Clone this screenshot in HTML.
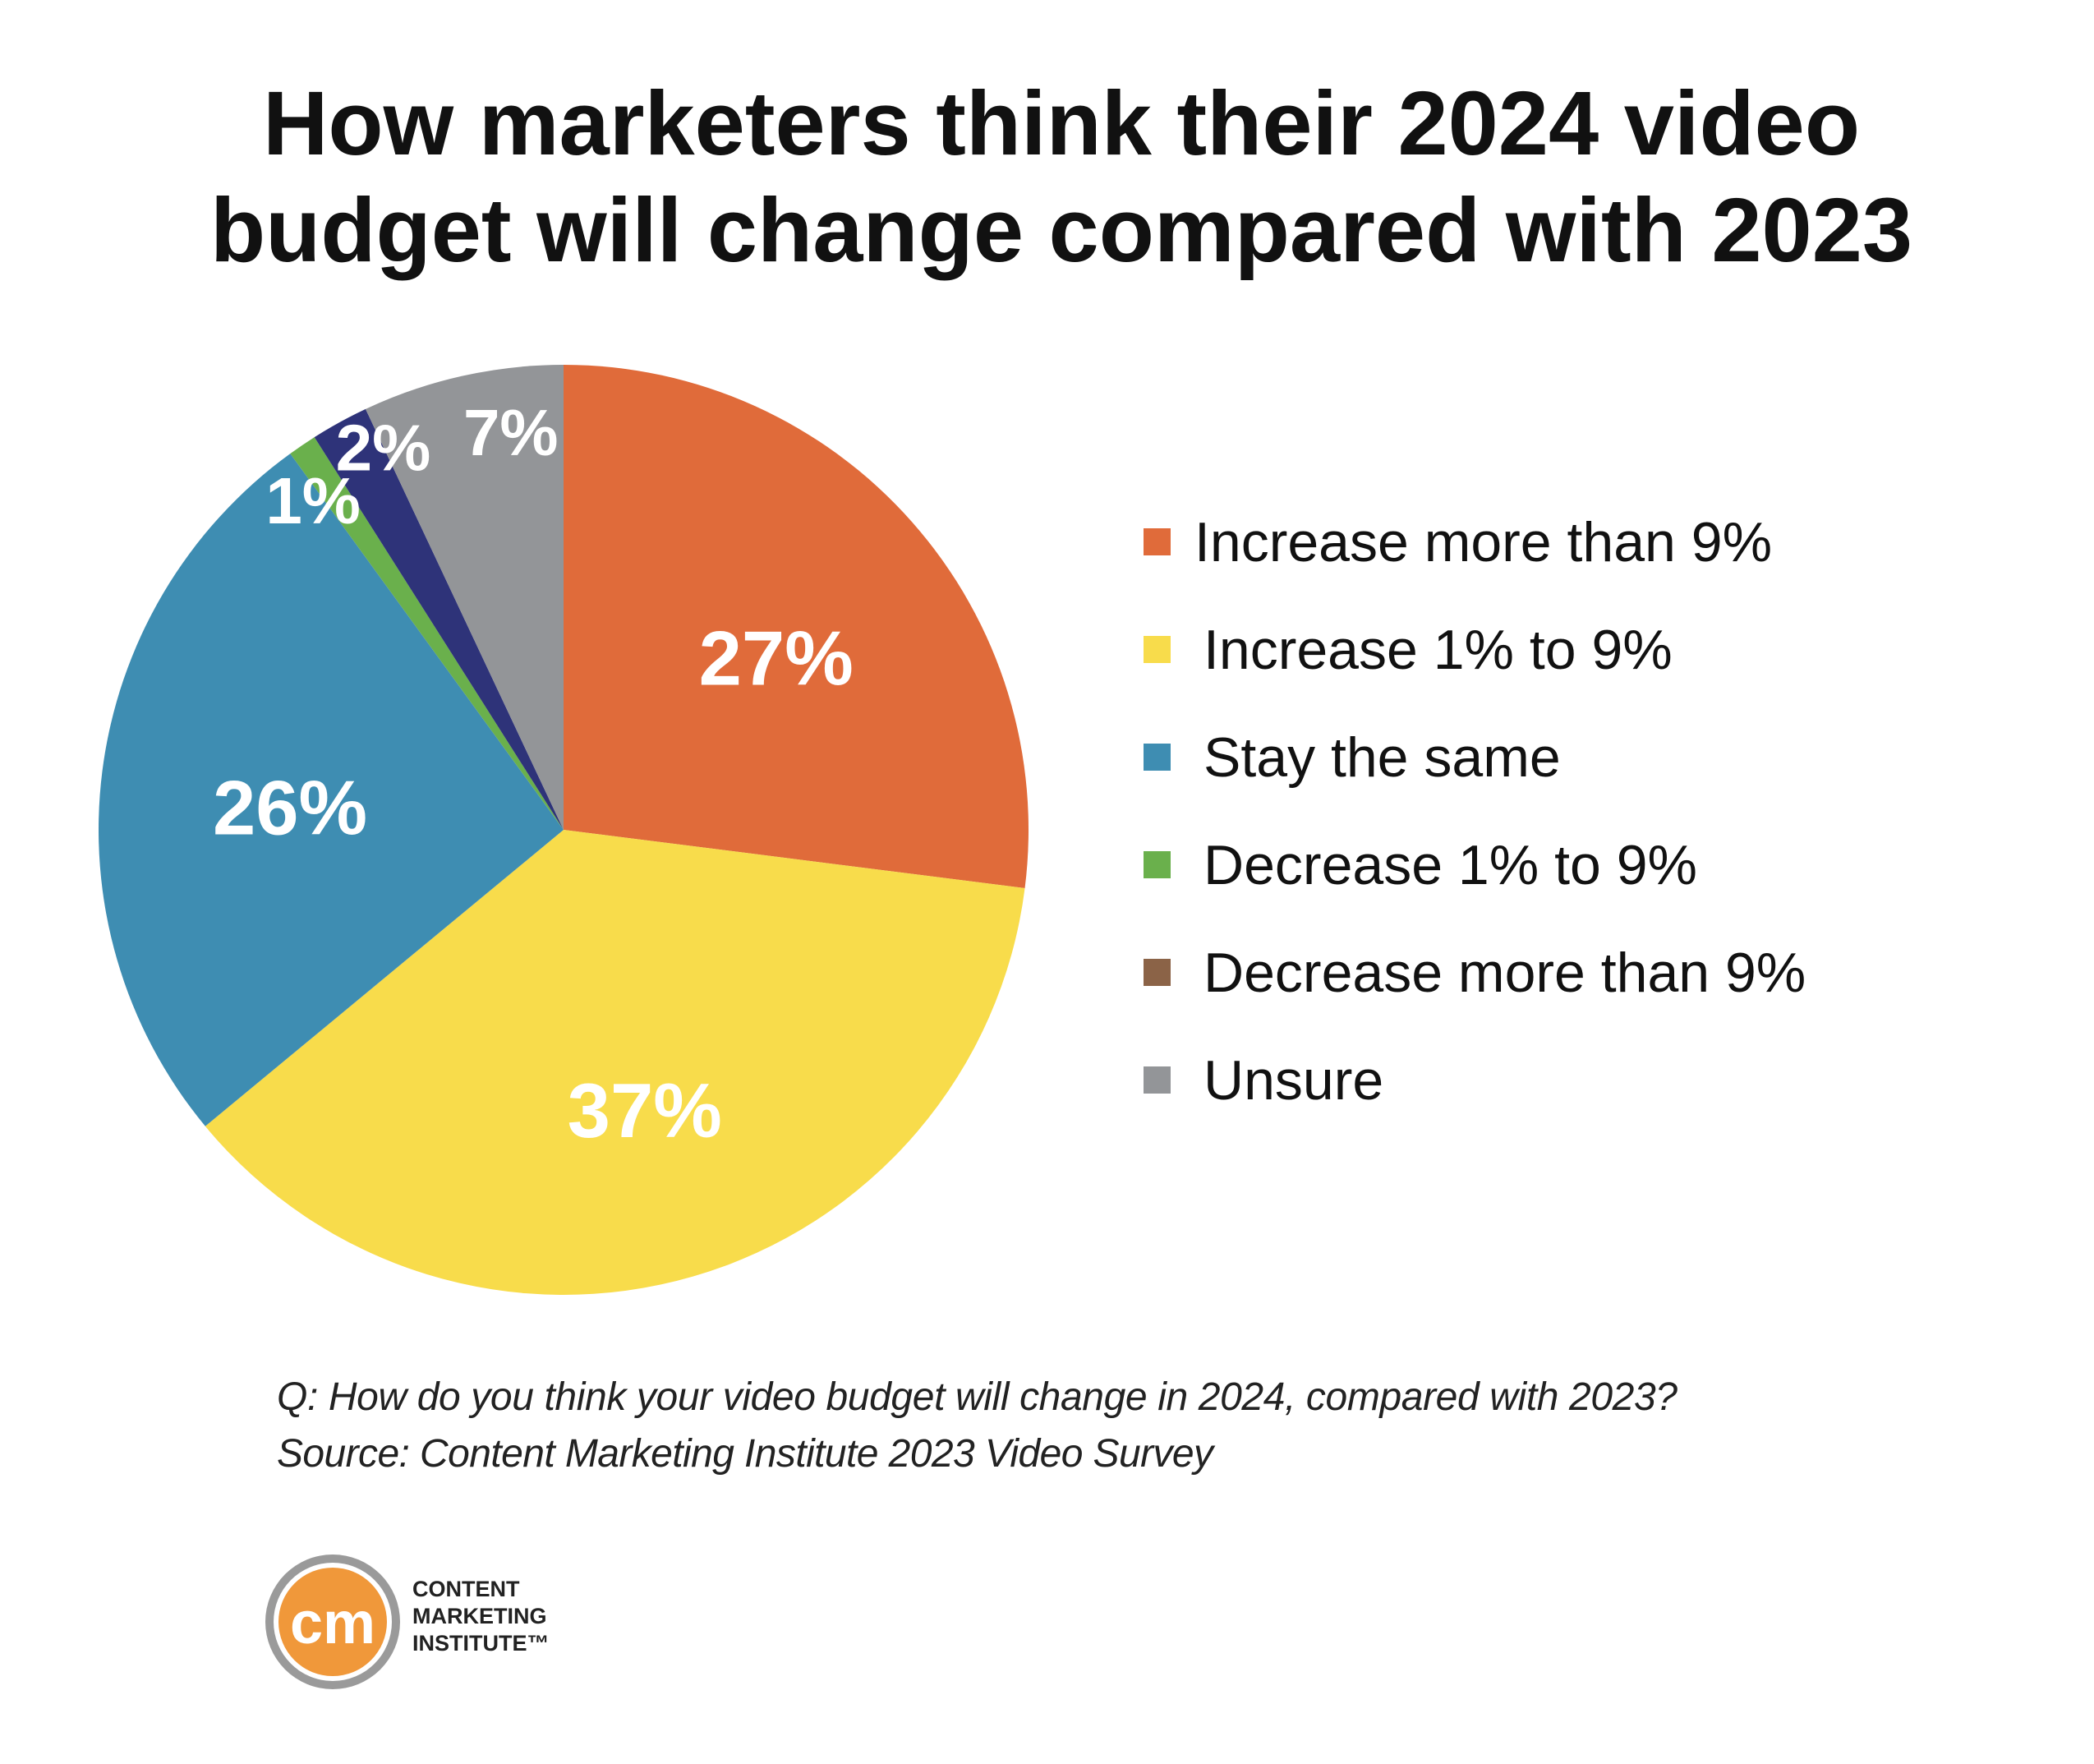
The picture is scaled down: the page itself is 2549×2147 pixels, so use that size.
<!DOCTYPE html>
<html><head><meta charset="utf-8"><style>
html,body{margin:0;padding:0;background:#fff;}
body{width:2549px;height:2142px;overflow:hidden;font-family:"Liberation Sans",sans-serif;}
</style></head><body>
<svg width="2549" height="2142" viewBox="0 0 2549 2142" xmlns="http://www.w3.org/2000/svg">
<g font-family="Liberation Sans, sans-serif" font-weight="bold" font-size="110" fill="#111" text-anchor="middle">
<text x="1292" y="188">How marketers think their 2024 video</text>
<text x="1292" y="318">budget will change compared with 2023</text>
</g>
<g id="pie"></g>
<g id="legend"></g>
<g font-family="Liberation Sans, sans-serif" font-style="italic" font-size="48" fill="#222">
<text x="337" y="1716" textLength="1705">Q: How do you think your video budget will change in 2024, compared with 2023?</text>
<text x="337" y="1785" textLength="1140">Source: Content Marketing Institute 2023 Video Survey</text>
</g>
<g transform="translate(-3,-25)">
<circle cx="408" cy="1999" r="82" fill="#9a9a9a"/>
<circle cx="408" cy="1999" r="72" fill="#fff"/>
<circle cx="408" cy="1999" r="66" fill="#F0983A"/>
<text x="408" y="2025" text-anchor="middle" font-family="Liberation Sans, sans-serif" font-weight="bold" font-size="72" fill="#fff">cm</text>
<g font-family="Liberation Sans, sans-serif" font-weight="bold" font-size="27" fill="#222">
<text x="505" y="1968">CONTENT</text>
<text x="505" y="2001">MARKETING</text>
<text x="505" y="2034">INSTITUTE™</text>
</g>
</g>
</svg>
<script>
const categories=["Increase more than 9%","Increase 1% to 9%","Stay the same","Decrease 1% to 9%","Decrease more than 9%","Unsure"];
const legendColors=["#E06B3A","#F8DC4B","#3E8DB2","#6AB04C","#8B6347","#939598"];
const sliceLabels=["27%","37%","26%","1%","2%","7%"];
const sliceValues=[27,37,26,1,2,7];
const sliceColors=["#E06B3A","#F8DC4B","#3E8DB2","#6AB04C","#2E3379","#939598"];
const NS="http://www.w3.org/2000/svg";
const cx=686,cy=1010,r=566;
const pie=document.getElementById('pie');
const total=sliceValues.reduce((a,b)=>a+b,0);
function pt(a,rr){return [cx+rr*Math.sin(a),cy-rr*Math.cos(a)];}
let acc=0;
sliceValues.forEach((v,i)=>{
  const a0=acc/total*2*Math.PI; acc+=v; const a1=acc/total*2*Math.PI;
  const p0=pt(a0,r),p1=pt(a1,r);
  const path=document.createElementNS(NS,'path');
  path.setAttribute('d',`M${cx},${cy} L${p0[0]},${p0[1]} A${r},${r} 0 ${a1-a0>Math.PI?1:0} 1 ${p1[0]},${p1[1]} Z`);
  path.setAttribute('fill',sliceColors[i]);
  
  
  pie.appendChild(path);
});
acc=0;
const smallOffsets={3:[-44,-21],4:[4,-63],5:[37,-35]};
sliceValues.forEach((v,i)=>{
  const am=(acc+v/2)/total*2*Math.PI; acc+=v;
  let p;
  if(v>=10){p=pt(am,r*0.6);p=[p[0]+4,p[1]+16];} else {p=pt(am,r*0.82);const o=smallOffsets[i]||[0,0];p=[p[0]+o[0],p[1]+o[1]];}
  const t=document.createElementNS(NS,'text');
  t.setAttribute('x',p[0]);t.setAttribute('y',p[1]+32);
  t.setAttribute('text-anchor','middle');
  t.setAttribute('font-family','Liberation Sans, sans-serif');
  t.setAttribute('font-weight','bold');
  t.setAttribute('font-size',v>=10?'94':'80');
  t.setAttribute('fill','#fff');
  t.textContent=sliceLabels[i];
  
  
  pie.appendChild(t);
});
const leg=document.getElementById('legend');
categories.forEach((c,i)=>{
  const y=659+i*131;
  const s=document.createElementNS(NS,'rect');
  s.setAttribute('x',1392);s.setAttribute('y',y-16);s.setAttribute('width',33);s.setAttribute('height',33);
  s.setAttribute('fill',legendColors[i]);
  
  
  leg.appendChild(s);
  const t=document.createElementNS(NS,'text');
  t.setAttribute('x',i===0?1454:1465);t.setAttribute('y',y+24);
  t.setAttribute('font-family','Liberation Sans, sans-serif');
  t.setAttribute('font-size','68');t.setAttribute('fill','#111');
  t.textContent=c;
  
  
  leg.appendChild(t);
});
</script>
</body></html>
